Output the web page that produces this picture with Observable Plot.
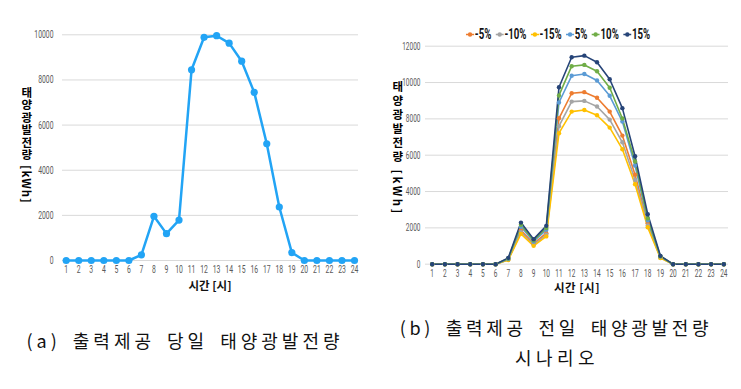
<!DOCTYPE html>
<html>
<head>
<meta charset="utf-8">
<script src="https://cdn.jsdelivr.net/npm/d3@7"></script>
<script src="https://cdn.jsdelivr.net/npm/@observablehq/plot@0.6"></script>
<style>
  html, body { margin: 0; padding: 0; background: #fff; }
  #root { position: relative; width: 741px; height: 389px; overflow: hidden; background: #fff; }
  .panel { position: absolute; top: 0; }
  .ytitle { position: absolute; writing-mode: vertical-rl; font-family: "Noto Sans CJK KR", sans-serif; font-weight: 700; font-size: 11.5px; line-height: 1; color: #000; transform: translate(-50%, -50%); white-space: nowrap; }
  .xtitle { position: absolute; font-family: "Noto Sans CJK KR", sans-serif; font-weight: 700; font-size: 11.5px; color: #111; transform: translate(-50%, -50%); white-space: nowrap; }
  .caption { position: absolute; font-family: "Noto Sans CJK KR", sans-serif; font-size: 18px; color: #111; white-space: nowrap; transform: translate(-50%, -50%); }
  .legend { position: absolute; display: flex; gap: 6px; align-items: center; font-family: Roboto, "Liberation Sans", sans-serif; font-weight: 700; font-size: 14px; color: #111; transform: translate(-50%, -50%) scaleX(0.69); white-space: nowrap; }
  .legend .item { display: flex; align-items: center; gap: 1px; }
</style>
</head>
<body>
<div id="root"></div>
<script>
// ---- data ----
const hours = [1,2,3,4,5,6,7,8,9,10,11,12,13,14,15,16,17,18,19,20,21,22,23,24];
const actual = [0,0,0,0,0,0,250,1960,1190,1790,8450,9890,9960,9630,8830,7450,5170,2370,350,0,0,0,0,0];

const seriesNames = ["-5%","-10%","-15%","5%","10%","15%"];
const minus5  = [0,0,0,0,0,0,260,1870,1130,1710,8030,9410,9470,9160,8400,7080,4930,2250,380,0,0,0,0,0];
const minus10 = [0,0,0,0,0,0,250,1770,1070,1620,7600,8950,8990,8680,7960,6710,4640,2130,360,0,0,0,0,0];
const minus15 = [0,0,0,0,0,0,235,1670,1010,1530,7210,8400,8490,8200,7520,6330,4400,2030,340,0,0,0,0,0];
const plus5   = [0,0,0,0,0,0,290,2060,1250,1890,8900,10370,10470,10110,9270,7850,5430,2410,420,0,0,0,0,0];
const plus10  = [0,0,0,0,0,0,310,2170,1310,1990,9290,10900,10970,10620,9710,8020,5650,2520,440,0,0,0,0,0];
const plus15  = [0,0,0,0,0,0,350,2290,1380,2110,9740,11390,11480,11120,10180,8590,5940,2750,460,0,0,0,0,0];
const seriesColors = ["#ED7D31","#A5A5A5","#FFC000","#5B9BD5","#70AD47","#264478"];

const yTicksA = [0,2000,4000,6000,8000,10000];
const yTicksB = [0,2000,4000,6000,8000,10000,12000];
const xTitle = "시간 [시]";
const yTitle = "태양광발전량 [kWh]";
const captionA = "(a) 출력제공 당일 태양광발전량";
const captionB1 = "(b) 출력제공 전일 태양광발전량";
const captionB2 = "시나리오";

// ---- build ----
const root = document.getElementById("root");
const tickFont = 'Roboto, "Liberation Sans", sans-serif';

// narrow the tick labels horizontally (reference uses a condensed face)
function condense(svg, k) {
  svg.querySelectorAll('g[aria-label$="tick label"] text').forEach(t => {
    const w = t.getComputedTextLength();
    if (w > 0) {
      t.setAttribute("textLength", String(w * k));
      t.setAttribute("lengthAdjust", "spacingAndGlyphs");
    }
  });
}

const dataA = hours.map((h, i) => ({hour: h, value: actual[i]}));
const plotA = Plot.plot({
  width: 370, height: 300,
  marginLeft: 62, marginRight: 12, marginTop: 34.3, marginBottom: 40,
  style: {fontFamily: tickFont, fontSize: "11px", color: "#595959", background: "transparent", overflow: "visible"},
  x: {domain: [1, 24], insetLeft: 3.7, insetRight: 4},
  y: {domain: [0, 10000]},
  marks: [
    Plot.gridY(yTicksA, {stroke: "#d9d9d9", strokeOpacity: 1, strokeWidth: 1}),
    Plot.axisY(yTicksA, {tickSize: 0, tickPadding: 9, label: null, tickFormat: d => String(d), fill: "#595959"}),
    Plot.axisX(hours, {tickSize: 0, tickPadding: 5, label: null, tickFormat: d => String(d), fill: "#595959"}),
    Plot.line(dataA, {x: "hour", y: "value", stroke: "#22A4F5", strokeWidth: 2.5}),
    Plot.dot(dataA, {x: "hour", y: "value", fill: "#22A4F5", r: 3.6})
  ]
});
plotA.classList.add("panel");
plotA.style.left = "0px";
root.appendChild(plotA);
condense(plotA, 0.62);

const allSeries = [minus5, minus10, minus15, plus5, plus10, plus15];
const dataB = [];
seriesNames.forEach((name, si) => {
  hours.forEach((h, i) => dataB.push({hour: h, value: allSeries[si][i], series: name}));
});
const plotB = Plot.plot({
  width: 371, height: 300,
  marginLeft: 55, marginRight: 13, marginTop: 45.7, marginBottom: 36.3,
  style: {fontFamily: tickFont, fontSize: "10.5px", color: "#595959", background: "transparent", overflow: "visible"},
  x: {domain: [1, 24], insetLeft: 6.7, insetRight: 4.7},
  y: {domain: [0, 12000]},
  color: {domain: seriesNames, range: seriesColors},
  marks: [
    Plot.gridY(yTicksB, {stroke: "#d9d9d9", strokeOpacity: 1, strokeWidth: 1}),
    Plot.axisY(yTicksB, {tickSize: 0, tickPadding: 5, label: null, tickFormat: d => String(d), fill: "#595959"}),
    Plot.axisX(hours, {tickSize: 0, tickPadding: 5, label: null, tickFormat: d => String(d), fill: "#595959"}),
    Plot.line(dataB, {x: "hour", y: "value", z: "series", stroke: "series", strokeWidth: 1.6}),
    Plot.dot(dataB, {x: "hour", y: "value", fill: "series", r: 2.2})
  ]
});
plotB.classList.add("panel");
plotB.style.left = "370px";
root.appendChild(plotB);
condense(plotB, 0.62);

function addDiv(cls, text, left, top, extra) {
  const d = document.createElement("div");
  d.className = cls;
  d.textContent = text;
  d.style.left = left + "px";
  d.style.top = top + "px";
  if (extra) Object.assign(d.style, extra);
  root.appendChild(d);
  return d;
}

// axis titles
addDiv("ytitle", yTitle, 26, 145, {letterSpacing: "1px"});
addDiv("ytitle", yTitle, 397, 148, {letterSpacing: "2.5px"});
addDiv("xtitle", xTitle, 210, 285);
addDiv("xtitle", xTitle, 577, 287, {letterSpacing: "0.5px"});

// legend for panel b
const legend = document.createElement("div");
legend.className = "legend";
legend.style.left = "558px";
legend.style.top = "34px";
const kLeg = 0.69;
seriesNames.forEach((name, i) => {
  const item = document.createElement("div");
  item.className = "item";
  const sw = document.createElementNS("http://www.w3.org/2000/svg", "svg");
  sw.setAttribute("width", "12");
  sw.setAttribute("height", "9");
  const ln = document.createElementNS("http://www.w3.org/2000/svg", "line");
  ln.setAttribute("x1", "0"); ln.setAttribute("x2", "12");
  ln.setAttribute("y1", "4.5"); ln.setAttribute("y2", "4.5");
  ln.setAttribute("stroke", seriesColors[i]); ln.setAttribute("stroke-width", "1.5");
  const c = document.createElementNS("http://www.w3.org/2000/svg", "ellipse");
  c.setAttribute("cx", "6"); c.setAttribute("cy", "4.5");
  c.setAttribute("rx", String(2.2 / kLeg)); c.setAttribute("ry", "2.2");
  c.setAttribute("fill", seriesColors[i]);
  sw.appendChild(ln); sw.appendChild(c);
  const t = document.createElement("span");
  t.textContent = name;
  item.appendChild(sw); item.appendChild(t);
  legend.appendChild(item);
});
root.appendChild(legend);

// captions
addDiv("caption", captionA, 185, 340, {letterSpacing: "4px", wordSpacing: "4px"});
addDiv("caption", captionB1, 556, 327, {letterSpacing: "3.7px", wordSpacing: "4px"});
addDiv("caption", captionB2, 557, 357, {letterSpacing: "4.5px"});
</script>
</body>
</html>
